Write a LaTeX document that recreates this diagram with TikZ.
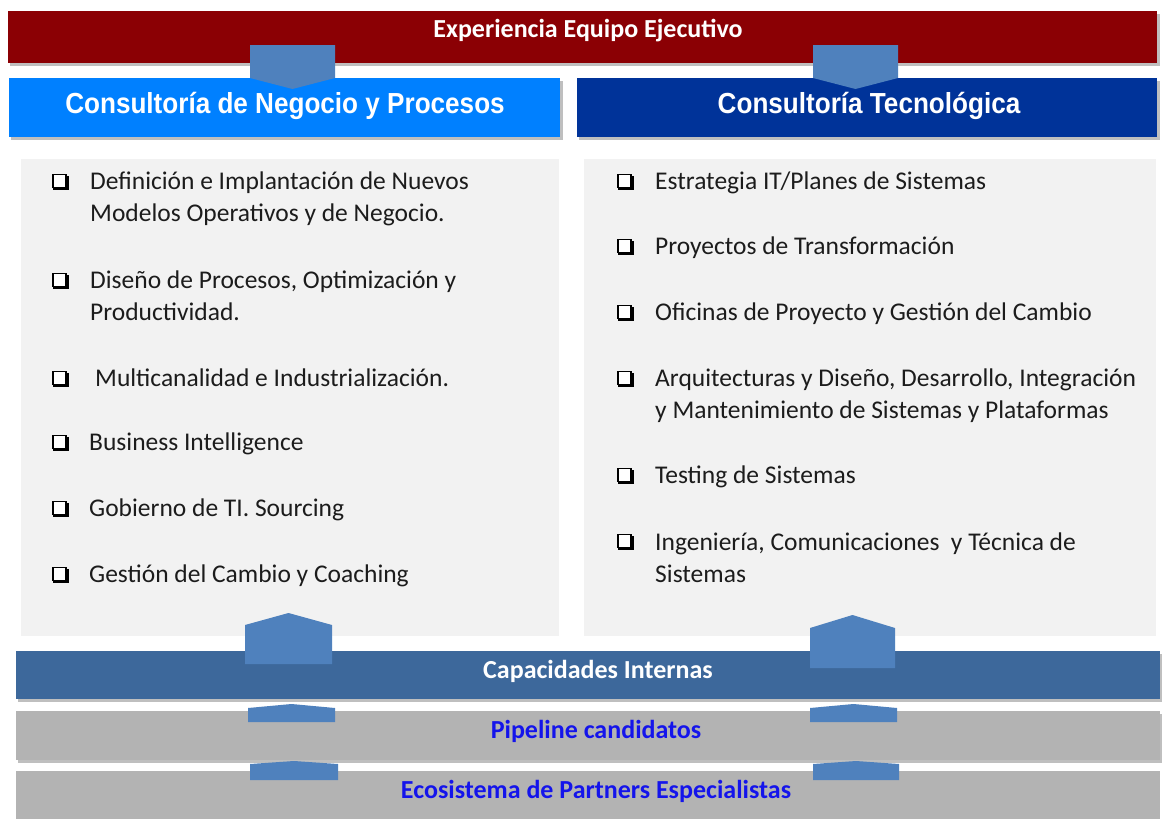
\documentclass[tikz,border=0pt]{standalone}
\usepackage{fontspec}
\setmainfont{Carlito}
\newfontfamily\hdfont{Liberation Sans}
\definecolor{barred}{RGB}{139,0,4}
\definecolor{hdleft}{RGB}{0,128,255}
\definecolor{hdright}{RGB}{0,51,153}
\definecolor{arrowblue}{RGB}{79,129,189}
\definecolor{capblue}{RGB}{61,104,155}
\definecolor{bargray}{RGB}{179,179,179}
\definecolor{panelgray}{RGB}{242,242,242}
\definecolor{txtblue}{RGB}{20,20,235}
\definecolor{itemtxt}{RGB}{28,28,28}
\tikzset{
  shadowbar/.style={fill=black!25, draw=none},
  barbox/.style={draw=none, inner sep=0pt, outer sep=0pt},
  panelbox/.style={fill=panelgray, draw=white, line width=1.5pt},
  arrowshape/.style={fill=arrowblue, draw=none},
  bartitle/.style={font=\bfseries\fontsize{26}{30}\selectfont, inner sep=0pt},
  hdtitle/.style={font=\hdfont\bfseries\fontsize{29}{32}\selectfont, text=white, inner sep=0pt},
  itemtext/.style={font=\fontsize{25.5}{32}\selectfont, text=itemtxt, anchor=base west, inner sep=0pt, align=left},
  cbox/.style={draw=black, fill=white, line width=1.4pt, minimum size=13pt, inner sep=0pt},
}
\newcommand{\chk}[3]{%
  \fill[black] (#1+1.3,#2-5.5) rectangle (#1+16.5,#2+9.2);
  \node[cbox] (#3) at (#1+7.5,#2) {};
}
\begin{document}
\begin{tikzpicture}[x=1pt,y=-1pt]
\useasboundingbox (0,0) rectangle (1162,819);
\fill[white] (0,0) rectangle (1162,819);

% top bar
\fill[shadowbar] (10,14) rectangle (1160,66);
\fill[barred] (8,11) rectangle (1157,63);
\node[barbox] (top) at (582.5,37) {};
\node[bartitle, text=white] (toptxt) at (588,31) {Experiencia Equipo Ejecutivo};

% headers
\fill[shadowbar] (11,81) rectangle (563,140);
\fill[hdleft] (9,78) rectangle (560,137);
\fill[shadowbar] (579,81) rectangle (1160,140);
\fill[hdright] (577,78) rectangle (1157,137);

% down arrows
\fill[arrowshape] (250,45) -- (335,45) -- (335,78) -- (292.5,89) -- (250,78) -- cycle;
\fill[arrowshape] (813,45) -- (898,45) -- (898,78) -- (855.5,89) -- (813,78) -- cycle;

\node[hdtitle] (hl) at (285,106) {\scalebox{0.9}[1]{Consultoría de Negocio y Procesos}};
\node[hdtitle] (hr) at (869,106) {\scalebox{0.9}[1]{Consultoría Tecnológica}};

% panels
\draw[panelbox] (20,158) rectangle (560,637);
\draw[panelbox] (583,158) rectangle (1157,637);

% left items (anchor = baseline of last line)
\chk{52}{181}{cl1}
\node[itemtext] (l1) at (90,221) {Definición e Implantación de Nuevos\\Modelos Operativos y de Negocio.};
\chk{52}{280}{cl2}
\node[itemtext] (l2) at (90,320) {Diseño de Procesos, Optimización y\\Productividad.};
\chk{52}{378}{cl3}
\node[itemtext] (l3) at (95,386) {Multicanalidad e Industrialización.};
\chk{52}{442}{cl4}
\node[itemtext] (l4) at (89,450) {Business Intelligence};
\chk{52}{508}{cl5}
\node[itemtext] (l5) at (89,516) {Gobierno de TI. Sourcing};
\chk{52}{574}{cl6}
\node[itemtext] (l6) at (89,582) {Gestión del Cambio y Coaching};

% right items
\chk{617}{181}{cr1}
\node[itemtext] (r1) at (655,189) {Estrategia IT/Planes de Sistemas};
\chk{617}{246}{cr2}
\node[itemtext] (r2) at (655,254) {Proyectos de Transformación};
\chk{617}{312}{cr3}
\node[itemtext] (r3) at (655,320) {Oficinas de Proyecto y Gestión del Cambio};
\chk{617}{378}{cr4}
\node[itemtext] (r4) at (655,418) {Arquitecturas y Diseño, Desarrollo, Integración\\y Mantenimiento de Sistemas y Plataformas};
\chk{617}{475}{cr5}
\node[itemtext] (r5) at (655,483) {Testing de Sistemas};
\chk{617}{541}{cr6}
\node[itemtext] (r6) at (655,582) {Ingeniería, Comunicaciones~ y Técnica de\\Sistemas};

% bottom bars
\fill[shadowbar] (18,654) rectangle (1162,702);
\fill[capblue] (16,651) rectangle (1160,699);
\fill[shadowbar] (18,714) rectangle (1162,763);
\fill[bargray] (16,711) rectangle (1160,760);
\fill[bargray] (16,771) rectangle (1160,819);

% up arrows
\fill[arrowshape] (245,664) -- (245,625) -- (288.5,613) -- (332,625) -- (332,664) -- cycle;
\fill[arrowshape] (810,668) -- (810,628) -- (852.5,615) -- (895,628) -- (895,668) -- cycle;
\fill[arrowshape] (248,722) -- (248,708) -- (291.5,704) -- (335,708) -- (335,722) -- cycle;
\fill[arrowshape] (810,722) -- (810,708) -- (853.5,704) -- (897,708) -- (897,722) -- cycle;
\fill[arrowshape] (250,780) -- (250,764) -- (294,761) -- (338,764) -- (338,780) -- cycle;
\fill[arrowshape] (813,780) -- (813,764) -- (856,761) -- (899,764) -- (899,780) -- cycle;

\node[bartitle, text=white] (cap) at (598,671) {Capacidades Internas};
\node[bartitle, text=txtblue] (pip) at (596,731) {Pipeline candidatos};
\node[bartitle, text=txtblue] (eco) at (596,791) {Ecosistema de Partners Especialistas};
\end{tikzpicture}
\end{document}
